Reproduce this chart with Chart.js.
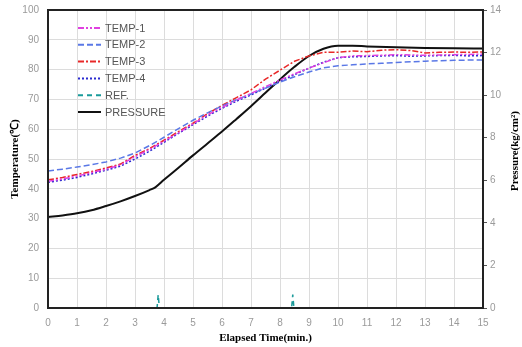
<!DOCTYPE html>
<html>
<head>
<meta charset="utf-8">
<script src="https://cdn.jsdelivr.net/npm/chart.js@4.4.1/dist/chart.umd.min.js"></script>
<style>
  html, body { margin: 0; padding: 0; background: #fff; }
  #wrap { width: 522px; height: 347px; }
</style>
</head>
<body>
<div id="wrap"><canvas id="grafico"></canvas></div>
<script>
// eixo do tempo (min.) das temperaturas
const tempos = [0, 0.5, 1, 1.5, 2, 2.5, 3, 3.5, 4, 4.5, 5, 5.5, 6, 6.5, 7, 7.5, 8, 8.5, 9, 9.5, 10, 10.5, 11, 11.5, 12, 12.5, 13, 13.5, 14, 14.5, 15];

const temp1 = [42.5, 43.3, 44.3, 45.4, 46.6, 48.0, 50.8, 53.2, 56.0, 58.8, 61.8, 64.8, 67.3, 69.8, 72.0, 74.3, 76.5, 78.6, 80.5, 82.3, 84.0, 84.6, 84.7, 84.8, 85.0, 84.9, 84.8, 84.9, 85.0, 85.1, 85.2];
const temp2 = [46.0, 46.6, 47.3, 48.1, 49.0, 50.3, 52.0, 54.5, 57.3, 60.2, 63.0, 65.5, 67.8, 69.9, 71.8, 73.8, 75.8, 77.6, 79.2, 80.6, 81.3, 81.6, 81.9, 82.1, 82.4, 82.6, 82.8, 83.0, 83.1, 83.2, 83.2];
const temp3 = [43.0, 43.8, 44.8, 45.8, 47.0, 48.3, 51.2, 53.5, 56.3, 59.2, 62.0, 65.2, 68.0, 70.6, 73.2, 76.8, 79.8, 82.8, 84.6, 85.8, 85.8, 86.2, 86.0, 86.5, 86.7, 86.4, 85.6, 85.8, 85.9, 85.8, 85.9];
const temp4 = [42.2, 42.9, 43.8, 45.0, 46.2, 47.6, 50.0, 52.6, 55.6, 58.6, 61.5, 64.4, 67.0, 69.4, 71.5, 73.8, 76.0, 78.3, 80.5, 82.5, 84.0, 84.3, 84.4, 84.6, 84.7, 84.5, 84.6, 84.7, 84.8, 84.6, 84.7];

// REF.
const temposRef = [0, 3.76, 3.8, 3.84, 8.4, 8.44, 8.48, 15];
const ref = [0, 0, 4.5, 0, 0, 4.5, 0, 0];

// pressão (kg/cm2)
const temposPressao = [0, 0.5, 1, 1.5, 2, 2.5, 3, 3.5, 3.7, 4, 4.5, 5, 5.5, 6, 6.5, 7, 7.5, 8, 8.5, 9, 9.5, 10, 10.5, 11, 12, 13, 14, 15];
const pressao = [4.27, 4.35, 4.45, 4.59, 4.79, 5.01, 5.26, 5.54, 5.67, 6.02, 6.59, 7.17, 7.73, 8.29, 8.88, 9.48, 10.11, 10.74, 11.33, 11.84, 12.18, 12.32, 12.32, 12.29, 12.25, 12.22, 12.20, 12.19];

const nomesSeries = ['TEMP-1', 'TEMP-2', 'TEMP-3', 'TEMP-4', 'REF.', 'PRESSURE'];

function pares(xs, ys) {
    return xs.map((x, i) => ({ x: x, y: ys[i] }));
}

const fonteTicks = { family: 'Liberation Sans', size: 10 };
const corTicks = '#9a9a9a';

// legenda dentro da área do gráfico
const legendaInterna = {
    id: 'legendaInterna',
    afterDatasetsDraw(chart) {
        const ctx = chart.ctx;
        ctx.save();
        chart.data.datasets.forEach((ds, i) => {
            const y = 28 + i * 16.8;
            ctx.beginPath();
            ctx.setLineDash(ds.borderDash || []);
            ctx.strokeStyle = ds.borderColor;
            ctx.lineWidth = 2;
            ctx.moveTo(78, y);
            ctx.lineTo(101, y);
            ctx.stroke();
            ctx.setLineDash([]);
            ctx.fillStyle = '#555';
            ctx.font = '11px "Liberation Sans"';
            ctx.textBaseline = 'middle';
            ctx.fillText(ds.label, 105, y + 0.5);
        });
        ctx.restore();
    }
};

// moldura preta e título do eixo direito
const moldura = {
    id: 'moldura',
    afterDraw(chart) {
        const a = chart.chartArea;
        const ctx = chart.ctx;
        ctx.save();
        ctx.strokeStyle = '#222';
        ctx.lineWidth = 2;
        ctx.strokeRect(a.left, a.top, a.right - a.left, a.bottom - a.top);
        ctx.translate(515, (a.top + a.bottom) / 2 - 8);
        ctx.rotate(-Math.PI / 2);
        ctx.fillStyle = '#000';
        ctx.font = 'bold 11px "Liberation Serif"';
        ctx.textAlign = 'center';
        ctx.textBaseline = 'middle';
        ctx.fillText('Pressure(kg/cm²)', 0, 0);
        ctx.restore();
    }
};

function semPaddingVertical(s) {
    s.paddingTop = 0;
    s.paddingBottom = 0;
}

const ctx = document.getElementById('grafico').getContext('2d');

new Chart(ctx, {
    type: 'line',
    data: {
        datasets: [{
            label: nomesSeries[0],
            data: pares(tempos, temp1),
            borderColor: '#e040e0',
            borderDash: [6, 2, 2, 2, 2, 2],
            borderWidth: 1.5,
            yAxisID: 'y'
        }, {
            label: nomesSeries[1],
            data: pares(tempos, temp2),
            borderColor: '#5a78e6',
            borderDash: [6, 3],
            borderWidth: 1.5,
            yAxisID: 'y'
        }, {
            label: nomesSeries[2],
            data: pares(tempos, temp3),
            borderColor: '#e82828',
            borderDash: [6, 2, 2, 2],
            borderWidth: 1.5,
            yAxisID: 'y'
        }, {
            label: nomesSeries[3],
            data: pares(tempos, temp4),
            borderColor: '#2a2ad0',
            borderDash: [2, 2],
            borderWidth: 1.5,
            yAxisID: 'y'
        }, {
            label: nomesSeries[4],
            data: pares(temposRef, ref),
            borderColor: '#1a9a9a',
            borderDash: [5, 4],
            borderWidth: 1.5,
            yAxisID: 'y'
        }, {
            label: nomesSeries[5],
            data: pares(temposPressao, pressao),
            borderColor: '#111',
            borderWidth: 2,
            cubicInterpolationMode: 'monotone',
            yAxisID: 'y2'
        }]
    },
    options: {
        responsive: true,
        maintainAspectRatio: false,
        animation: false,
        elements: { point: { radius: 0 }, line: { tension: 0 } },
        layout: { padding: { top: 10, left: 0, right: 0, bottom: 0 } },
        scales: {
            x: {
                type: 'linear',
                min: 0,
                max: 15,
                ticks: { stepSize: 1, color: corTicks, font: fonteTicks, padding: 9, maxRotation: 0 },
                grid: { color: '#dcdcdc', drawTicks: false },
                border: { display: false },
                title: {
                    display: true,
                    text: 'Elapsed Time(min.)',
                    color: '#000',
                    font: { family: 'Liberation Serif', size: 11, weight: 'bold' },
                    padding: { top: 0, bottom: 2 }
                },
                afterFit(s) { s.height = 39; }
            },
            y: {
                position: 'left',
                min: 0,
                max: 100,
                ticks: { stepSize: 10, color: corTicks, font: fonteTicks, padding: 9 },
                grid: { color: '#dcdcdc', drawTicks: false },
                border: { display: false },
                title: {
                    display: true,
                    text: 'Temperature(℃)',
                    color: '#000',
                    font: { family: 'Liberation Serif', size: 11, weight: 'bold' },
                    padding: { top: 9, bottom: 0 }
                },
                afterFit(s) { s.width = 48; semPaddingVertical(s); }
            },
            y2: {
                position: 'right',
                min: 0,
                max: 14,
                ticks: { stepSize: 2, color: corTicks, font: fonteTicks, padding: 3 },
                grid: { drawOnChartArea: false, tickLength: 4, color: '#555' },
                border: { display: false },
                afterFit(s) { s.width = 39; semPaddingVertical(s); }
            }
        },
        plugins: {
            legend: { display: false },
            tooltip: { enabled: false }
        }
    },
    plugins: [legendaInterna, moldura]
});
</script>
</body>
</html>
